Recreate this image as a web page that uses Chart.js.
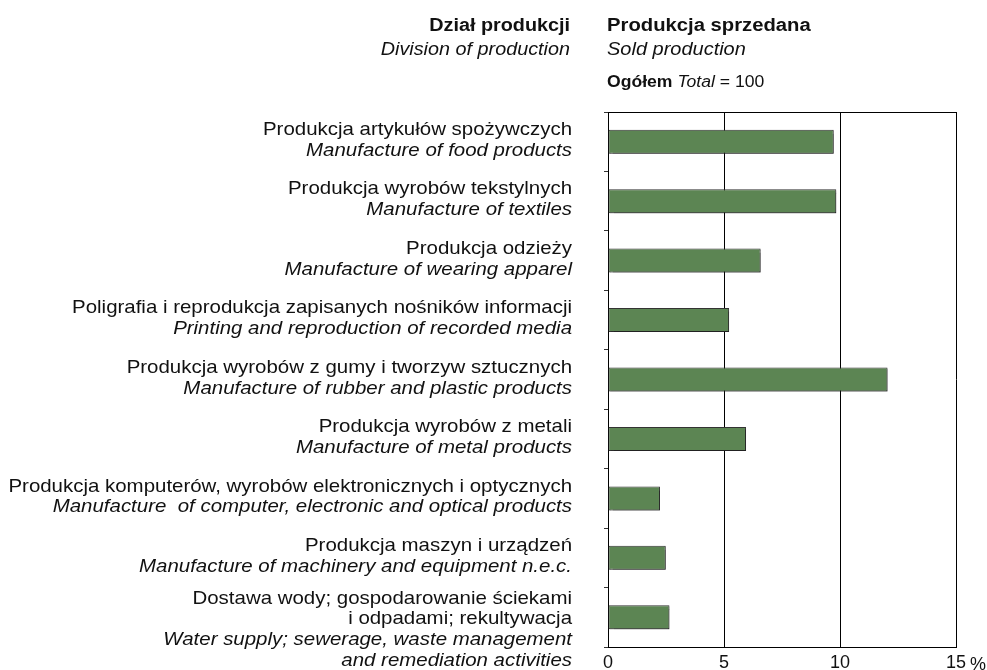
<!DOCTYPE html>
<html><head><meta charset="utf-8">
<script src="https://cdn.jsdelivr.net/npm/chart.js@4"></script>
<style>html,body{margin:0;padding:0;background:#fff}#wrap{width:987px;height:670px;position:relative}</style>
</head><body><div id="wrap"><canvas id="c" width="987" height="670"></canvas></div>
<script>
const divisionsPl = [
  ["Produkcja artykułów spożywczych"],
  ["Produkcja wyrobów tekstylnych"],
  ["Produkcja odzieży"],
  ["Poligrafia i reprodukcja zapisanych nośników informacji"],
  ["Produkcja wyrobów z gumy i tworzyw sztucznych"],
  ["Produkcja wyrobów z metali"],
  ["Produkcja komputerów, wyrobów elektronicznych i optycznych"],
  ["Produkcja maszyn i urządzeń"],
  ["Dostawa wody; gospodarowanie ściekami", "i odpadami; rekultywacja"]
];
const divisionsEn = [
  ["Manufacture of food products"],
  ["Manufacture of textiles"],
  ["Manufacture of wearing apparel"],
  ["Printing and reproduction of recorded media"],
  ["Manufacture of rubber and plastic products"],
  ["Manufacture of metal products"],
  ["Manufacture  of computer, electronic and optical products"],
  ["Manufacture of machinery and equipment n.e.c."],
  ["Water supply; sewerage, waste management", "and remediation activities"]
];
const soldShare = [9.73, 9.84, 6.58, 5.22, 12.05, 5.95, 2.24, 2.49, 2.65];
const xTicks = [0, 5, 10, 15];
const xTickLabels = ["0", "5", "10", "15"];
const unitLabel = "%";
const headerLeft = ["Dział produkcji", "Division of production"];
const headerRight = ["Produkcja sprzedana", "Sold production"];
const totalLine = ["Ogółem", "Total", " = 100"];

const FONT = '"Liberation Sans", Arial, sans-serif';
const TXT = '#111';

function wideText(ctx, t, x, y, sx) {
  ctx.save();
  ctx.translate(x, y);
  ctx.scale(sx, 1);
  ctx.fillText(t, 0, 0);
  ctx.restore();
}

const shadowPlugin = {
  id: 'barShadow',
  beforeDatasetsDraw(chart) {
    const ctx = chart.ctx;
    ctx.save();
    ctx.shadowColor = 'rgba(0,0,0,0.35)';
    ctx.shadowOffsetX = 1.5;
    ctx.shadowOffsetY = 1.5;
    ctx.shadowBlur = 1;
  },
  afterDatasetsDraw(chart) { chart.ctx.restore(); }
};

const textPlugin = {
  id: 'texts',
  afterDraw(chart) {
    const ctx = chart.ctx, ca = chart.chartArea, ys = chart.scales.y, xs = chart.scales.x;
    ctx.save();
    ctx.strokeStyle = '#000'; ctx.lineWidth = 1;
    ctx.beginPath();
    const ty = Math.round(ca.top) + 0.5;
    ctx.moveTo(ca.left, ty); ctx.lineTo(ca.right, ty); ctx.stroke();

    ctx.fillStyle = TXT;
    ctx.textBaseline = 'alphabetic';
    ctx.textAlign = 'right';
    ctx.font = 'bold 18px ' + FONT; wideText(ctx, headerLeft[0], 570, 31, 1.1);
    ctx.font = 'italic 18px ' + FONT; wideText(ctx, headerLeft[1], 570, 55, 1.1);
    ctx.textAlign = 'left';
    const hx = ca.left - 1;
    ctx.font = 'bold 18px ' + FONT; wideText(ctx, headerRight[0], hx, 31, 1.125);
    ctx.font = 'italic 18px ' + FONT; wideText(ctx, headerRight[1], hx, 55, 1.11);
    const s3 = 1.1;
    let xx = hx;
    ctx.font = 'bold 16px ' + FONT; wideText(ctx, totalLine[0], xx, 87, s3);
    xx += ctx.measureText(totalLine[0] + ' ').width * s3;
    ctx.font = 'italic 16px ' + FONT; wideText(ctx, totalLine[1], xx, 87, s3);
    xx += ctx.measureText(totalLine[1]).width * s3;
    ctx.font = '16px ' + FONT; wideText(ctx, totalLine[2], xx, 87, s3);

    ctx.textAlign = 'right';
    divisionsPl.forEach((pl, i) => {
      const lines = pl.map(t => [t, false]).concat(divisionsEn[i].map(t => [t, true]));
      const c = ys.getPixelForValue(i);
      const b = c - 6.7 - (lines.length - 2) * 3.5;
      lines.forEach(([t, it], k) => {
        ctx.font = (it ? 'italic ' : '') + '18.5px ' + FONT;
        wideText(ctx, t, 572, b + k * 20.8, 1.105);
      });
    });

    const lastX = xs.getPixelForValue(xTicks[xTicks.length - 1]);
    ctx.font = '18px ' + FONT; ctx.textAlign = 'left';
    const w = ctx.measureText(xTickLabels[xTickLabels.length - 1]).width;
    ctx.fillText(unitLabel, lastX + w / 2 + 4, 670);
    ctx.restore();
  }
};

new Chart(document.getElementById('c'), {
  type: 'bar',
  data: {
    labels: divisionsPl.map(l => l.join(' ')),
    datasets: [{
      data: soldShare,
      backgroundColor: '#5c8553',
      borderColor: '#333',
      borderWidth: 1,
      borderSkipped: false,
      barPercentage: 0.404,
      categoryPercentage: 1
    }]
  },
  options: {
    indexAxis: 'y',
    responsive: false,
    animation: false,
    devicePixelRatio: 1,
    layout: { padding: { top: 112, right: 31, left: 0, bottom: 0 } },
    plugins: { legend: { display: false }, tooltip: { enabled: false } },
    scales: {
      x: {
        min: 0, max: 15,
        afterBuildTicks: s => { s.ticks = xTicks.map(v => ({ value: v })); },
        afterFit: s => { s.height = 23; },
        ticks: {
          callback: (v, i) => xTickLabels[i],
          color: TXT, font: { family: FONT, size: 18 }, padding: 5, maxRotation: 0
        },
        grid: { color: '#000', lineWidth: 1, drawTicks: false },
        border: { display: true, color: '#000', width: 1 }
      },
      y: {
        afterFit: s => { s.width = 608; },
        ticks: { display: false },
        grid: { offset: true, drawOnChartArea: false, drawTicks: true, tickLength: 4, color: '#333' },
        border: { display: true, color: '#000', width: 1 }
      }
    }
  },
  plugins: [shadowPlugin, textPlugin]
});
</script>
</body></html>
